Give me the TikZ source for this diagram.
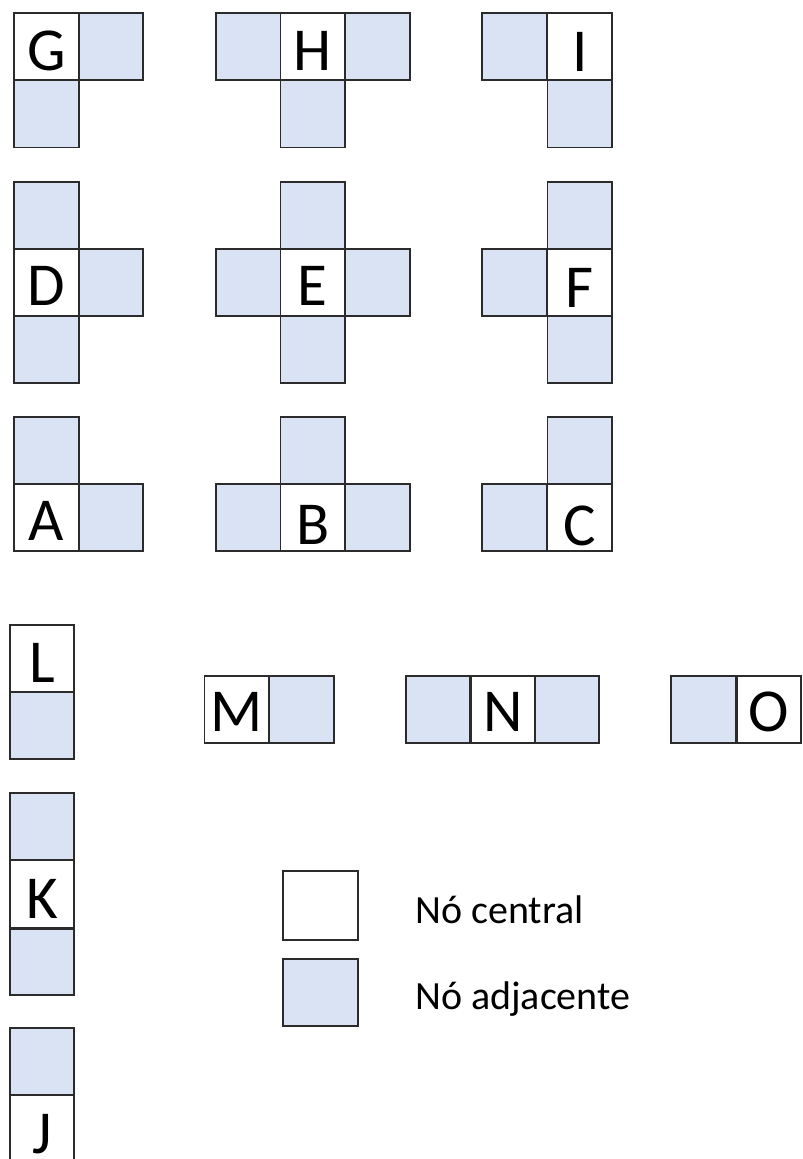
\documentclass[tikz,border=0pt]{standalone}
\usepackage{fontspec}
\setmainfont{Carlito}
\definecolor{adjblue}{HTML}{DAE3F3}
\definecolor{edge}{HTML}{2B2B2B}
\tikzset{
  cellbox/.style={draw=edge, line width=1.8pt, rectangle, inner sep=0pt,
    minimum width=64.5pt, minimum height=67pt},
  ctr/.style={cellbox, fill=white},
  adj/.style={cellbox, fill=adjblue},
  lett/.style={anchor=base, inner sep=0pt, text depth=0pt, font=\fontsize{61}{61}\selectfont},
  legtext/.style={anchor=base west, inner sep=0pt, font=\fontsize{40}{40}\selectfont},
}
\begin{document}
\begin{tikzpicture}[x=1pt, y=-1pt]
\useasboundingbox (0,0) rectangle (803,1159);
\fill[white] (0,0) rectangle (803,1159);
% ---------- Row 1 : G H I
\node[adj] (g1) at (111,46.8) {};
\node[adj] (g2) at (46.5,114) {};
\node[ctr] (g) at (46.5,46.8) {};
\node[lett] (gl) at ([yshift=11pt]g.south) {G};
\node[adj] (h1) at (248.3,46.8) {};
\node[adj] (h2) at (377.5,46.8) {};
\node[adj] (h3) at (312.8,114) {};
\node[ctr] (h) at (312.8,46.8) {};
\node[lett] (hl) at ([yshift=11pt]h.south) {H};
\node[adj] (i1) at (514.5,46.8) {};
\node[adj] (i2) at (579.7,114) {};
\node[ctr] (i) at (579.7,46.8) {};
\node[lett] (il) at ([yshift=10pt]i.south) {I};
% ---------- Row 2 : D E F
\node[adj] (d1) at (46.5,215.3) {};
\node[adj] (d2) at (111,282.2) {};
\node[adj] (d3) at (46.5,349.2) {};
\node[ctr] (d) at (46.5,282.2) {};
\node[lett] (dl) at ([yshift=11pt]d.south) {D};
\node[adj] (e1) at (312.8,215.3) {};
\node[adj] (e2) at (248.3,282.2) {};
\node[adj] (e3) at (377.5,282.2) {};
\node[adj] (e4) at (312.8,349.2) {};
\node[ctr] (e) at (312.8,282.2) {};
\node[lett] (el) at ([yshift=11pt]e.south) {E};
\node[adj] (f1) at (579.7,215.3) {};
\node[adj] (f2) at (514.5,282.2) {};
\node[adj] (f3) at (579.7,349.2) {};
\node[ctr] (f) at (579.7,282.2) {};
\node[lett] (fl) at ([yshift=9pt]f.south) {F};
% ---------- Row 3 : A B C
\node[adj] (a1) at (46.5,450.3) {};
\node[adj] (a2) at (111,517.8) {};
\node[ctr] (a) at (46.5,517.8) {};
\node[lett] (al) at ([yshift=11.5pt]a.south) {A};
\node[adj] (b1) at (312.8,450.3) {};
\node[adj] (b2) at (248.3,517.8) {};
\node[adj] (b3) at (377.5,517.8) {};
\node[ctr] (b) at (312.8,517.8) {};
\node[lett] (bl) at ([yshift=7.5pt]b.south) {B};
\node[adj] (c1) at (579.7,450.3) {};
\node[adj] (c2) at (514.5,517.8) {};
\node[ctr] (c) at (579.7,517.8) {};
\node[lett] (cl) at ([yshift=7pt]c.south) {C};
% ---------- L K J column
\node[adj] (l1) at (41.9,725.7) {};
\node[ctr] (l) at (41.9,658.5) {};
\node[lett] (ll) at ([yshift=10.5pt]l.south) {L};
\node[adj] (k1) at (41.9,826.8) {};
\node[adj] (k2) at (41.9,961.8) {};
\node[ctr] (k) at (41.9,894) {};
\node[lett] (kl) at ([yshift=9.5pt]k.south) {K};
\draw[edge, line width=3pt] (k.south west) -- (k.south east);
\node[adj] (j1) at (41.9,1061.7) {};
\node[ctr] (j) at (41.9,1128.5) {};
\node[lett] (jl) at ([yshift=9pt]j.south) {J};
% ---------- M N O row
\node[adj] (m1) at (301.5,709.5) {};
\node[ctr] (m) at (236.7,709.5) {};
\node[lett] (ml) at ([yshift=12pt]m.south) {M};
\node[adj] (n1) at (438,709.5) {};
\node[adj] (n2) at (567,709.5) {};
\node[ctr] (n) at (503,709.5) {};
\node[lett] (nl) at ([yshift=12pt]n.south) {N};
\node[adj] (o1) at (703.5,709.5) {};
\node[ctr] (o) at (769,709.5) {};
\node[lett] (ol) at ([yshift=12pt]o.south) {O};
% ---------- Legend
\node[ctr, minimum width=74.4pt, minimum height=69.3pt] (lc) at (320.5,905.7) {};
\node[adj, minimum width=74.4pt, minimum height=67pt] (la) at (320.5,992.5) {};
\node[legtext] (lct) at (415,923.3) {Nó central};
\node[legtext] (lat) at (415,1009) {Nó adjacente};
\end{tikzpicture}
\end{document}
